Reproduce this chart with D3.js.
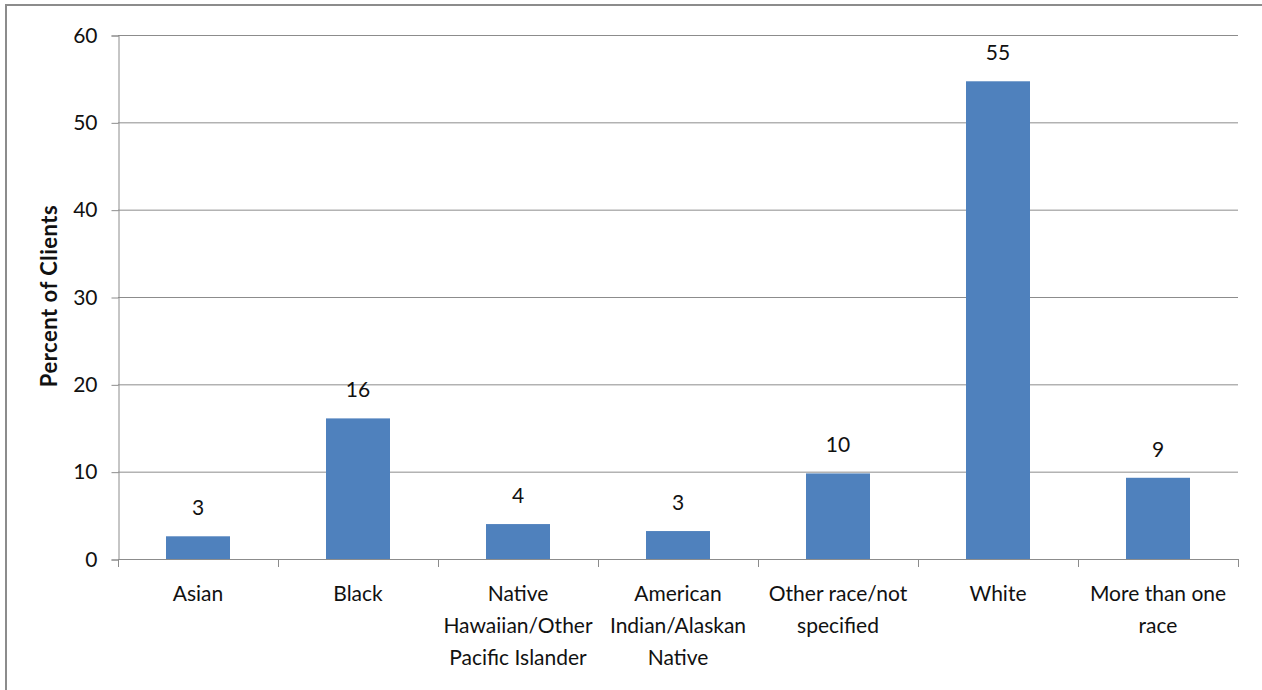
<!DOCTYPE html>
<html>
<head>
<meta charset="utf-8">
<script src="https://cdn.jsdelivr.net/npm/d3@7"></script>
<style>
  html, body { margin: 0; padding: 0; background: #fff; }
  svg { display: block; }
  text { font-family: Lato, "Open Sans", sans-serif; fill: #111; }
</style>
</head>
<body>
<svg id="chart" width="1262" height="690"></svg>
<script>
// Race of clients, percent
const categories = [
  "Asian",
  "Black",
  "Native Hawaiian/Other Pacific Islander",
  "American Indian/Alaskan Native",
  "Other race/not specified",
  "White",
  "More than one race"
];
// Wrapped label lines for each category
const categoryLines = [
  ["Asian"],
  ["Black"],
  ["Native", "Hawaiian/Other", "Pacific Islander"],
  ["American", "Indian/Alaskan", "Native"],
  ["Other race/not", "specified"],
  ["White"],
  ["More than one", "race"]
];
const percents = [2.6, 16.1, 4.0, 3.2, 9.8, 54.7, 9.3];
const yTicks = [0, 10, 20, 30, 40, 50, 60];
const yTitle = "Percent of Clients";

const svg = d3.select("#chart");
const W = 1262, H = 690;
const plot = { left: 118, right: 1238, top: 35, bottom: 559 };

// Frame around the figure
svg.append("line").attr("x1", 5).attr("x2", W).attr("y1", 5).attr("y2", 5)
  .attr("stroke", "#8c8c8c").attr("stroke-width", 2);
svg.append("line").attr("x1", 6).attr("x2", 6).attr("y1", 5).attr("y2", H)
  .attr("stroke", "#8c8c8c").attr("stroke-width", 2);
// Figure caption sits above the frame
svg.append("text").attr("x", 2).attr("y", -3)
  .style("font-size", "16px").style("font-weight", "bold").style("fill", "#1f3f8f")
  .text("Figure");

const x = d3.scaleBand().domain(categories)
  .range([plot.left, plot.right]).paddingInner(0.6).paddingOuter(0.3);
const xEdge = d3.scaleLinear().domain([0, categories.length])
  .range([plot.left, plot.right]);
const y = d3.scaleLinear().domain([0, 60]).range([plot.bottom, plot.top]);

const gridColor = "#8c8c8c";

// Horizontal gridlines
svg.append("g").selectAll("line").data(yTicks.filter(t => t > 0)).join("line")
  .attr("x1", plot.left).attr("x2", plot.right)
  .attr("y1", d => y(d) + 0.5).attr("y2", d => y(d) + 0.5)
  .attr("stroke", gridColor).attr("stroke-width", 1);

// Y axis with outward ticks
const yAxis = d3.axisLeft(y).tickValues(yTicks).tickSize(7).tickPadding(14);
const gy = svg.append("g").attr("transform", `translate(${plot.left + 0.5},0.5)`).call(yAxis);
gy.select(".domain").attr("stroke", gridColor);
gy.selectAll(".tick line").attr("stroke", gridColor);
gy.selectAll(".tick text").style("font-size", "21px").style("font-family", "Lato, sans-serif")
  .attr("fill", "#111");

// Bars
svg.append("g").selectAll("rect").data(percents).join("rect")
  .attr("x", (d, i) => x(categories[i]))
  .attr("width", x.bandwidth())
  .attr("y", d => y(d))
  .attr("height", d => y(0) - y(d))
  .attr("fill", "#4f81bd");

// X baseline and category divider ticks
svg.append("line").attr("x1", plot.left).attr("x2", plot.right)
  .attr("y1", plot.bottom + 0.5).attr("y2", plot.bottom + 0.5)
  .attr("stroke", gridColor);
svg.append("g").selectAll("line").data(d3.range(categories.length + 1)).join("line")
  .attr("x1", d => xEdge(d) + 0.5).attr("x2", d => xEdge(d) + 0.5)
  .attr("y1", plot.bottom).attr("y2", plot.bottom + 8)
  .attr("stroke", gridColor);

// Value labels
const fmt = d3.format(".0f");
svg.append("g").selectAll("text").data(percents).join("text")
  .attr("x", (d, i) => x(categories[i]) + x.bandwidth() / 2)
  .attr("y", d => y(d) - 21)
  .attr("text-anchor", "middle")
  .style("font-size", "21px")
  .text(d => fmt(d));

// Category labels
const lab = svg.append("g").selectAll("text").data(categoryLines).join("text")
  .attr("text-anchor", "middle")
  .style("font-size", "21px")
  .attr("transform", (d, i) => `translate(${x(categories[i]) + x.bandwidth() / 2},601)`);
lab.selectAll("tspan").data(d => d).join("tspan")
  .attr("x", 0).attr("y", (d, j) => j * 32)
  .text(d => d);

// Y axis title
svg.append("text")
  .attr("transform", `translate(57,296) rotate(-90)`)
  .attr("text-anchor", "middle")
  .style("font-size", "22px").style("font-weight", "bold").style("letter-spacing", "0.5px")
  .text(yTitle);
</script>
</body>
</html>
